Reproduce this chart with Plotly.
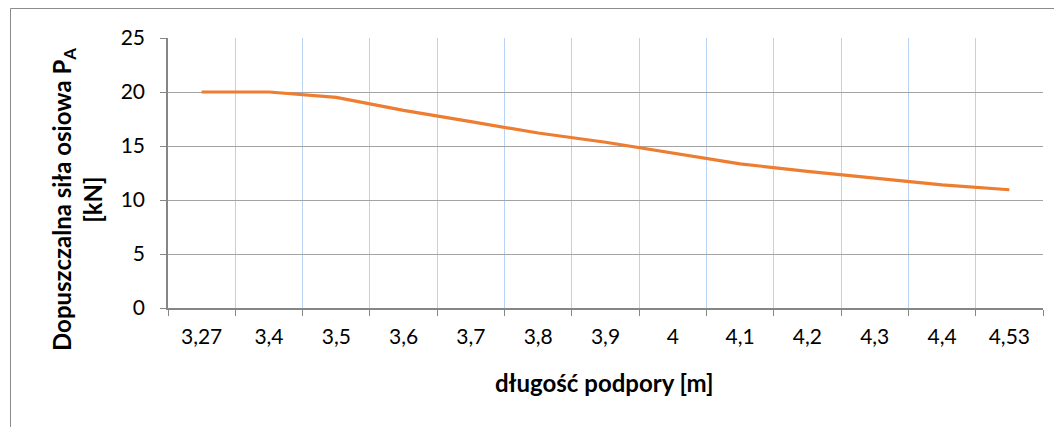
import plotly.graph_objects as go

categories = ["3,27", "3,4", "3,5", "3,6", "3,7", "3,8", "3,9", "4", "4,1", "4,2", "4,3", "4,4", "4,53"]
values = [20.0, 20.0, 19.5, 18.3, 17.25, 16.2, 15.35, 14.35, 13.35, 12.65, 12.0, 11.4, 10.95]

OFF = 8  # page body margin
W, H = 1062 - OFF, 427 - OFF
# plot area in reference pixel coordinates
L, R, T, B = 168, 1043, 38, 308

fig = go.Figure()
fig.add_trace(go.Scatter(
    x=categories, y=values, mode="lines",
    line=dict(color="#ED7D31", width=3.2),
    showlegend=False, hoverinfo="skip",
))

font_family = "Lato, 'Open Sans', 'Liberation Sans', sans-serif"

def px_to_paper_x(px):
    return (px - L) / (R - L)

def px_to_paper_y(py):
    return (B - py) / (B - T)

fig.update_layout(
    width=W, height=H,
    margin=dict(l=L - OFF, r=1062 - R, t=T - OFF, b=427 - B, pad=0),
    paper_bgcolor="white", plot_bgcolor="white",
    font=dict(family=font_family, size=21, color="#000000"),
    xaxis=dict(
        type="category", range=[-0.5, len(categories) - 0.5],
        showgrid=True, gridcolor="#b8d3f4", gridwidth=1,
        tickson="boundaries", ticks="outside", ticklen=6, tickcolor="#868686", tickwidth=1,
        showline=True, linecolor="#868686", linewidth=1.5,
        tickfont=dict(size=21, family=font_family), ticklabelstandoff=9,
        zeroline=False, fixedrange=True,
    ),
    yaxis=dict(
        range=[0, 25], dtick=5, tick0=0,
        showgrid=True, gridcolor="#a3a3a3", gridwidth=1.3,
        ticks="outside", ticklen=6, tickcolor="#868686", tickwidth=1,
        showline=True, linecolor="#868686", linewidth=1.5,
        tickfont=dict(size=21, family=font_family), ticklabelstandoff=11,
        zeroline=False, fixedrange=True,
    ),
    shapes=[
        dict(type="rect", xref="paper", yref="paper",
             x0=px_to_paper_x(10.5), x1=px_to_paper_x(1100),
             y0=px_to_paper_y(8.5), y1=px_to_paper_y(500),
             line=dict(color="#8c8c8c", width=1), fillcolor="rgba(0,0,0,0)", layer="below"),
    ],
    annotations=[
        dict(text="<b>długość podpory [m]</b>", xref="paper", yref="paper",
             x=px_to_paper_x(604), y=px_to_paper_y(382), showarrow=False,
             font=dict(size=24, family=font_family), xanchor="center", yanchor="middle"),
        dict(text="<b>Dopuszczalna siła osiowa P<sub>A</sub></b><br><b>[kN]</b>", xref="paper", yref="paper",
             x=px_to_paper_x(77), y=px_to_paper_y(200), showarrow=False, textangle=-90,
             font=dict(size=24, family=font_family), xanchor="center", yanchor="middle",
             align="center"),
    ],
)

fig.write_html("out.html")
